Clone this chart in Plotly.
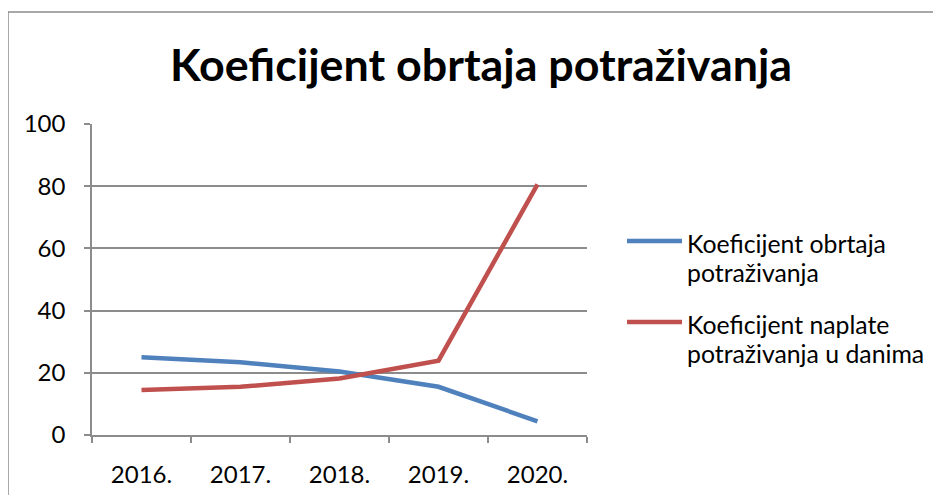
import plotly.graph_objects as go

years = ["2016.", "2017.", "2018.", "2019.", "2020."]
obrtaj = [25.0, 23.4, 20.4, 15.5, 4.4]
naplata = [14.5, 15.5, 18.2, 23.9, 80.6]
series_names = ["Koeficijent obrtaja<br>potraživanja", "Koeficijent naplate<br>potraživanja u danima"]
series_colors = ["#4F81BD", "#C0504D"]
title_text = "Koeficijent obrtaja potraživanja"

FONT = "Lato, Carlito, 'Open Sans', sans-serif"
GRID = "#8c8c8c"

# page has an 8px body margin; figure sized to fit in the 941x495 window
OFF = 8
W, H = 941 - OFF, 495 - OFF
L, T = 92 - OFF, 124 - OFF
R, B = W - (587 - OFF), H - (435 - OFF)
pw, ph = W - L - R, H - T - B


def px(x_page):
    return (x_page - OFF - L) / pw


def py(y_page):
    return 1 - (y_page - OFF - T) / ph


fig = go.Figure()
for name, vals, col in zip(series_names, [obrtaj, naplata], series_colors):
    fig.add_trace(go.Scatter(x=years, y=vals, mode="lines", name=name,
                             line=dict(color=col, width=4.5), showlegend=False))

shapes = [dict(type="rect", xref="paper", yref="paper",
               x0=px(8), x1=px(960), y0=py(520), y1=py(12),
               line=dict(color=GRID, width=1.5), fillcolor="rgba(0,0,0,0)",
               layer="below")]
annotations = []
legend_line_y = [241, 322]
for i, (name, col) in enumerate(zip(series_names, series_colors)):
    yl = legend_line_y[i]
    shapes.append(dict(type="line", xref="paper", yref="paper",
                       x0=px(627), x1=px(682), y0=py(yl), y1=py(yl),
                       line=dict(color=col, width=4.5)))
    for j, part in enumerate(name.split("<br>")):
        annotations.append(dict(text=part, xref="paper", yref="paper",
                                x=px(685), y=py(yl + 2 + 29 * j),
                                xanchor="left", yanchor="middle", showarrow=False,
                                font=dict(size=24.8, family=FONT, color="black")))

fig.update_layout(
    width=W, height=H,
    margin=dict(l=L, r=R, t=T, b=B, pad=0),
    paper_bgcolor="white", plot_bgcolor="white",
    font=dict(family=FONT, color="black", size=24),
    showlegend=False,
    title=dict(text="<b>" + title_text + "</b>", xref="container", yref="container",
               x=(481 - OFF) / W, y=1 - (65 - OFF) / H, xanchor="center", yanchor="middle",
               font=dict(size=44.8, family=FONT, color="black")),
    xaxis=dict(type="category", range=[-0.5, 4.5], showgrid=False, automargin=False,
               showline=True, linecolor=GRID, linewidth=1.5,
               ticks="outside", tickson="boundaries", ticklen=6, tickcolor=GRID, tickwidth=1.5,
               ticklabelstandoff=17, tickfont=dict(size=24)),
    yaxis=dict(range=[0, 100], dtick=20, showgrid=True, gridcolor=GRID, gridwidth=1.5,
               automargin=False,
               showline=True, linecolor=GRID, linewidth=1.5, zeroline=False,
               ticks="outside", ticklen=6, tickcolor=GRID, tickwidth=1.5,
               ticklabelstandoff=14, tickfont=dict(size=24)),
    shapes=shapes,
    annotations=annotations,
)

fig.write_html("out.html")
